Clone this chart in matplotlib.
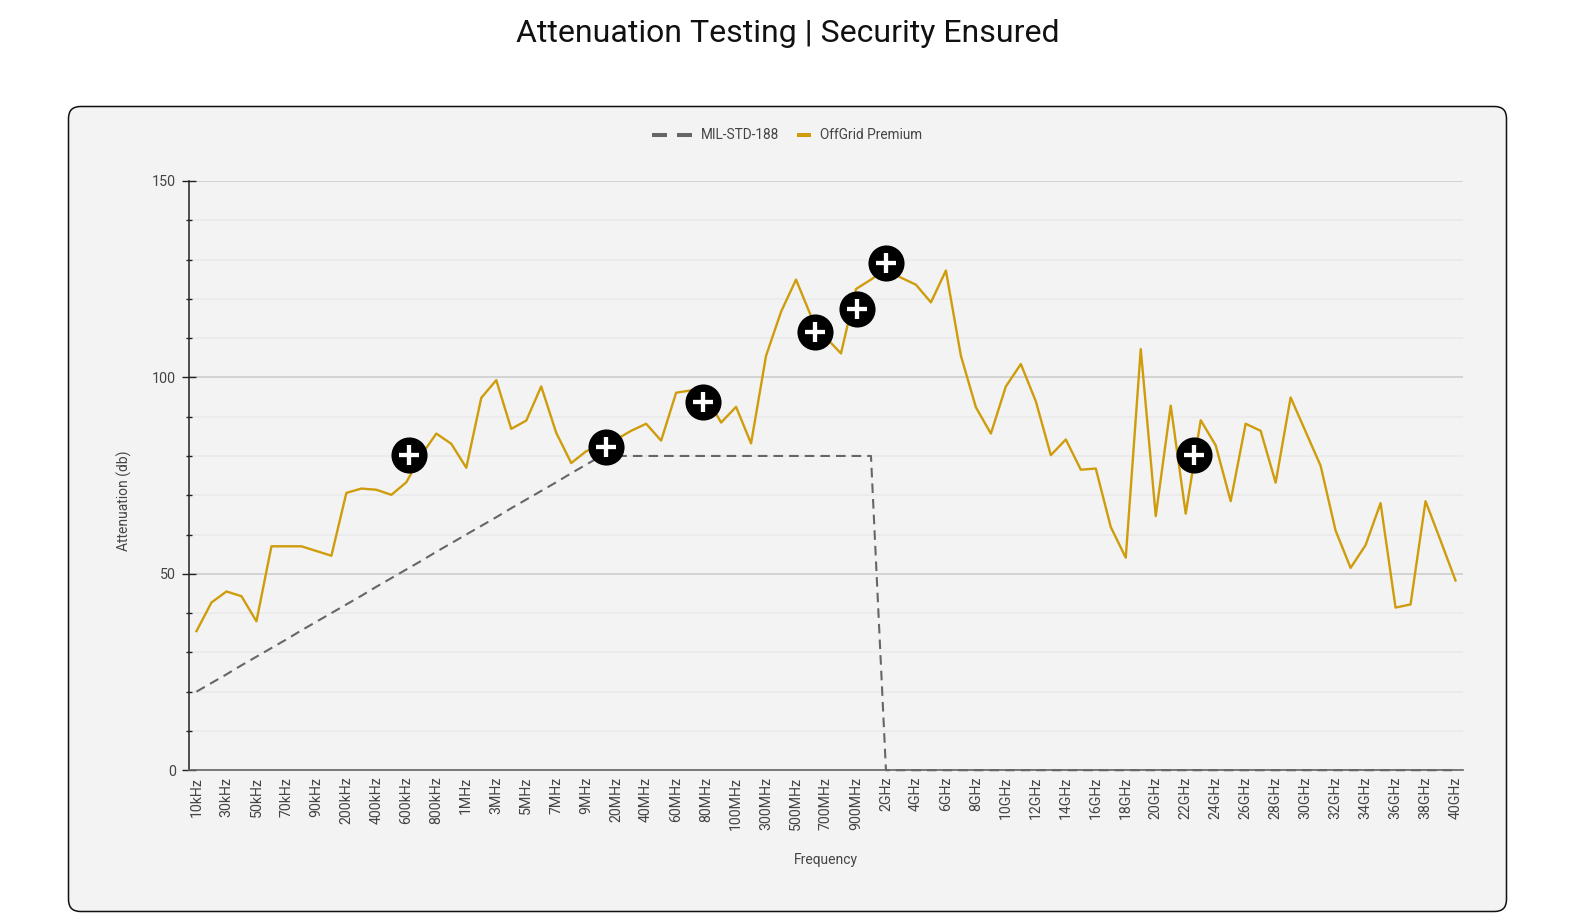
import matplotlib
matplotlib.use("Agg")
import matplotlib.pyplot as plt
from matplotlib.lines import Line2D
from matplotlib.patches import FancyBboxPatch
from matplotlib.ticker import MultipleLocator
from matplotlib.transforms import IdentityTransform

W, H = 1572, 923

frequencies = [
    "10kHz", "20kHz", "30kHz", "40kHz", "50kHz", "60kHz", "70kHz", "80kHz", "90kHz",
    "100kHz", "200kHz", "300kHz", "400kHz", "500kHz", "600kHz", "700kHz", "800kHz", "900kHz",
    "1MHz", "2MHz", "3MHz", "4MHz", "5MHz", "6MHz", "7MHz", "8MHz", "9MHz",
    "10MHz", "20MHz", "30MHz", "40MHz", "50MHz", "60MHz", "70MHz", "80MHz", "90MHz",
    "100MHz", "200MHz", "300MHz", "400MHz", "500MHz", "600MHz", "700MHz", "800MHz", "900MHz",
    "1GHz", "2GHz", "3GHz", "4GHz", "5GHz", "6GHz", "7GHz", "8GHz", "9GHz", "10GHz",
    "11GHz", "12GHz", "13GHz", "14GHz", "15GHz", "16GHz", "17GHz", "18GHz", "19GHz", "20GHz",
    "21GHz", "22GHz", "23GHz", "24GHz", "25GHz", "26GHz", "27GHz", "28GHz", "29GHz", "30GHz",
    "31GHz", "32GHz", "33GHz", "34GHz", "35GHz", "36GHz", "37GHz", "38GHz", "39GHz", "40GHz",
]

mil_std = [
    20, 22.2, 24.4, 26.7, 28.9, 31.1, 33.3, 35.6, 37.8,
    40, 42.2, 44.4, 46.7, 48.9, 51.1, 53.3, 55.6, 57.8,
    60, 62.2, 64.4, 66.7, 68.9, 71.1, 73.3, 75.6, 77.8,
    80, 80, 80, 80, 80, 80, 80, 80, 80,
    80, 80, 80, 80, 80, 80, 80, 80, 80,
    80, 0, 0, 0, 0, 0, 0, 0, 0, 0,
    0, 0, 0, 0, 0, 0, 0, 0, 0, 0,
    0, 0, 0, 0, 0, 0, 0, 0, 0, 0,
    0, 0, 0, 0, 0, 0, 0, 0, 0, 0,
]

offgrid = [
    35.4, 42.7, 45.5, 44.3, 37.9, 57, 57, 57, 55.8,
    54.6, 70.6, 71.7, 71.4, 70.1, 73.3, 80.2, 85.7, 83.1,
    77, 94.8, 99.3, 86.9, 89, 97.7, 85.9, 78.2, 81.2,
    82.7, 84.2, 86.4, 88.2, 83.9, 96.1, 96.7, 95.2, 88.5,
    92.5, 83.2, 105.5, 116.7, 124.9, 115.6, 110.1, 106.1, 122.5,
    124.9, 127.6, 125.4, 123.6, 119.1, 127.2, 105.5, 92.4, 85.7, 97.7,
    103.4, 93.9, 80.2, 84.2, 76.5, 76.8, 61.9, 54.1, 107.2, 64.7,
    92.8, 65.3, 89.1, 82.7, 68.5, 88.2, 86.4, 73.2, 94.9, 86.2,
    77.5, 61, 51.5, 57.3, 68, 41.4, 42.2, 68.5, 58.5, 48.3,
]

# the round "+" hotspots, in category / dB units
hotspot_x = [14.68, 27.8, 34.3, 41.78, 44.58, 46.48, 67.02]
hotspot_y = [80.3, 82.2, 93.7, 111.5, 117.4, 129.1, 80.2]

TEXT = "#444444"
GOLD = "#CF9C0C"
GREY = "#666666"

plt.rcParams["font.family"] = ["Roboto", "DejaVu Sans"]

fig = plt.figure(figsize=(W / 100, H / 100), dpi=100, facecolor="white")

# rounded panel behind the chart, in pixels
panel = FancyBboxPatch((80.5, H - 899.5), 1414, 781, boxstyle="round,pad=12,rounding_size=12",
                       transform=IdentityTransform(), facecolor="#F3F3F3",
                       edgecolor="#111111", linewidth=1.1, zorder=-1)
fig.add_artist(panel)

fig.text(787.5 / W, 1 - 33 / H, "Attenuation Testing | Security Ensured", ha="center", va="center",
         fontsize=23, color="#111111")

ax = fig.add_axes([189 / W, 1 - 770.2 / H, 1274 / W, 589.2 / H])
ax.patch.set_visible(False)

x = [i + 0.5 for i in range(len(frequencies))]
ax.plot(x, mil_std, color=GREY, linewidth=1.5, dashes=(4.6, 2.9), clip_on=False, zorder=3)
ax.plot(x, offgrid, color=GOLD, linewidth=1.7, zorder=4)

ax.scatter(hotspot_x, hotspot_y, s=26 ** 2, color="black", linewidths=0, zorder=5, clip_on=False)
ax.plot(hotspot_x, hotspot_y, linestyle="none", marker="+", markersize=15, markeredgewidth=3.1,
        color="white", zorder=6, clip_on=False)

ax.set_xlim(0, len(frequencies))
ax.set_ylim(0, 150)
ax.set_xticks(x[::2])
ax.set_xticklabels(frequencies[::2], rotation=90, fontsize=10.2, color=TEXT, va="top", ha="center")
ax.tick_params(axis="x", length=0, pad=4.7)

ax.yaxis.set_major_locator(MultipleLocator(50))
ax.yaxis.set_minor_locator(MultipleLocator(10))
ax.tick_params(axis="y", which="major", direction="inout", length=10, width=1.0, color="#222222",
               labelsize=10.3, labelcolor=TEXT, pad=4.3)
ax.tick_params(axis="y", which="minor", direction="inout", length=4.5, width=1.0, color="#222222")
ax.grid(axis="y", which="major", color="#D3D3D3", linewidth=1.4)
ax.grid(axis="y", which="minor", color="#EBEBEB", linewidth=1.4)
ax.set_axisbelow(True)

for side in ["top", "right"]:
    ax.spines[side].set_visible(False)
ax.spines["left"].set_color("#222222")
ax.spines["left"].set_linewidth(1.1)
ax.spines["bottom"].set_color("#666666")
ax.spines["bottom"].set_linewidth(1.2)

ax.set_xlabel("Frequency", fontsize=10, color=TEXT)
ax.set_ylabel("Attenuation (db)", fontsize=10, color=TEXT)
ax.xaxis.set_label_coords(0.4996, -0.1525)
ax.yaxis.set_label_coords(-0.0507, 0.4565)
ax.xaxis.label.set_va("center")
ax.yaxis.label.set_va("center")

# legend is drawn by hand: its two keys have different lengths
legend_y = 1 - 135.2 / H
for x0, x1, colour in [(652, 667, GREY), (677, 692, GREY), (797.5, 811.5, GOLD)]:
    fig.add_artist(Line2D([x0 / W, x1 / W], [legend_y, legend_y], color=colour, linewidth=2.9,
                          solid_capstyle="butt"))
fig.text(701 / W, legend_y, "MIL-STD-188", fontsize=9.8, color=TEXT, va="center")
fig.text(820.5 / W, legend_y, "OffGrid Premium", fontsize=9.8, color=TEXT, va="center")

fig.savefig("out.png", dpi=100)
